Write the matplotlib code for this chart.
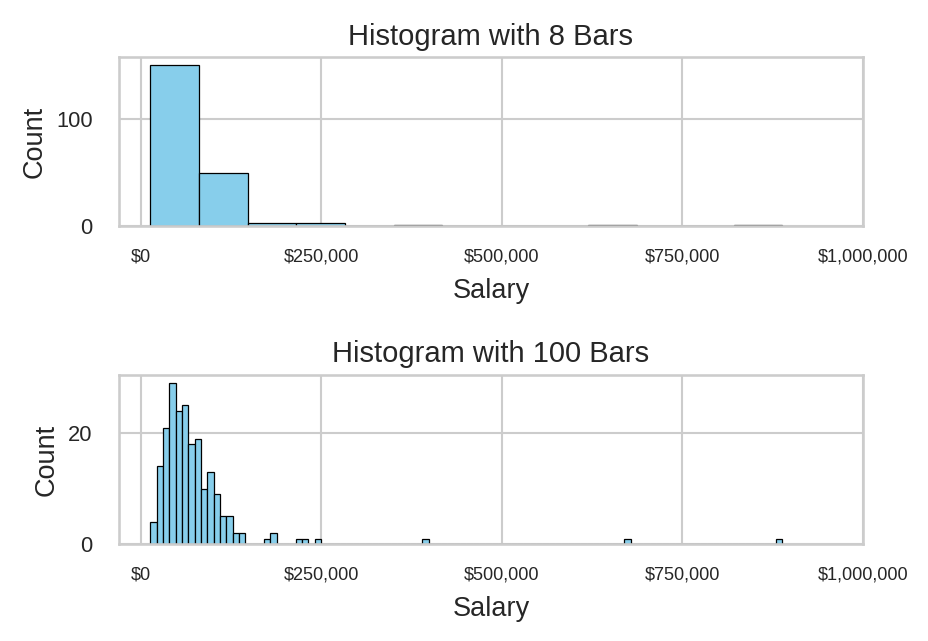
import numpy as np
import matplotlib
matplotlib.use("Agg")
import matplotlib.pyplot as plt
import matplotlib.ticker as mticker
import seaborn as sns

sns.set_theme(style="whitegrid")
plt.rcParams['font.family'] = ['Liberation Sans', 'DejaVu Sans']

# salary range covered by the data
salary_min = 13500
salary_max = 888500

# counts per bin
counts_coarse = [150, 50, 3, 3, 0, 1, 0, 0, 0, 1, 0, 0, 1]
counts_fine = [4, 14, 21, 29, 24, 25, 18, 19, 10, 13, 9, 5, 5, 2, 2,
               0, 0, 0, 1, 2, 0, 0, 0, 1, 1, 0, 1] + [0] * 73
counts_fine[43] = 1
counts_fine[75] = 1
counts_fine[99] = 1

titles = ['Histogram with 8 Bars', 'Histogram with 100 Bars']
xticks = [0, 250000, 500000, 750000, 1000000]
ytick_steps = [100, 20]

fig = plt.figure(figsize=(928 / 150, 641 / 150), dpi=150)
ax1 = fig.add_axes([0.128, 0.647, 0.802, 0.264])
ax2 = fig.add_axes([0.128, 0.151, 0.802, 0.264])

for ax, counts, title, step in zip([ax1, ax2], [counts_coarse, counts_fine], titles, ytick_steps):
    edges = np.linspace(salary_min, salary_max, len(counts) + 1)
    centers = (edges[:-1] + edges[1:]) / 2
    ax.hist(centers, bins=edges, weights=counts, color='skyblue',
            edgecolor='black', linewidth=0.6)
    ax.set_xlim(right=1000000)
    ax.set_xticks(xticks)
    ax.xaxis.set_major_formatter(mticker.FuncFormatter(lambda v, p: f'${v:,.0f}'))
    ax.yaxis.set_major_locator(mticker.MultipleLocator(step))
    ax.tick_params(axis='x', labelsize=8.7, length=0, pad=10.5)
    ax.tick_params(axis='y', labelsize=10.5, length=0, pad=12.5)
    ax.set_title(title, fontsize=14)
    ax.set_xlabel('Salary', fontsize=13, labelpad=6)
    ax.set_ylabel('Count', fontsize=13)

fig.savefig('out.png', dpi=150)
